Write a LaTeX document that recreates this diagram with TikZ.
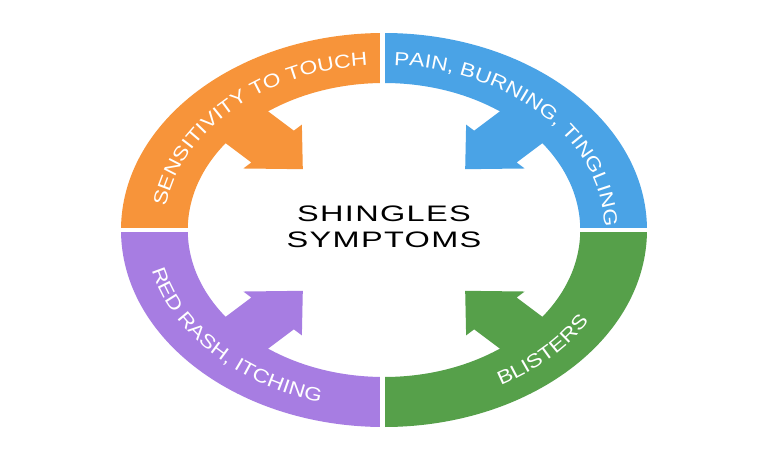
\documentclass[tikz,border=0pt]{standalone}
\usepackage{fontspec}
\setmainfont{Liberation Sans}
\newfontfamily\ringfont[FakeStretch=1.2]{Liberation Sans}
\newfontfamily\centerfont[FakeStretch=1.45,LetterSpace=6]{Liberation Sans}
\usetikzlibrary{decorations.text}
\definecolor{cOrange}{HTML}{F7943A}
\definecolor{cBlue}{HTML}{4AA3E6}
\definecolor{cGreen}{HTML}{56A04A}
\definecolor{cPurple}{HTML}{A77DE2}
\tikzset{
  ringtext/.style={decorate, decoration={text along path, text align=center,
      text color=white, text={|\ringfont\fontsize{19}{21}\selectfont|#1}}},
  gapline/.style={fill=white},
}
\newcommand\ringsegment[2]{%
  \begin{scope}[xscale=1.335]
    \fill[#1] (#2-45:197) arc[start angle=#2-45, end angle=#2+45, radius=197]
      -- (#2+45:147) arc[start angle=#2+45, end angle=#2-45, radius=147] -- cycle;
    \begin{scope}[rotate=#2]
      \fill[#1] (160,22.5) -- (118,22.5) -- (118,31) -- (86,0) -- (118,-31)
        -- (118,-22.5) -- (160,-22.5) -- cycle;
    \end{scope}
  \end{scope}}
\begin{document}
\begin{tikzpicture}[x=1pt,y=1pt]
  \useasboundingbox (-384,-231) rectangle (384,230);
  \fill[white] (-384,-231) rectangle (384,230);
  \ringsegment{cOrange}{135}
  \ringsegment{cBlue}{45}
  \ringsegment{cGreen}{-45}
  \ringsegment{cPurple}{-135}
  \fill[gapline] (-4,-205) rectangle (1,205);
  \fill[gapline] (-270,-2) rectangle (270,2);
  % curved labels
  \path[ringtext={SENSITIVITY TO TOUCH}] (171:220.3 and 165)
    arc[start angle=171, end angle=95, x radius=220.3, y radius=165];
  \path[ringtext={PAIN, BURNING, TINGLING}] (86:220.3 and 165)
    arc[start angle=86, end angle=3, x radius=220.3, y radius=165];
  \path[ringtext={BLISTERS}] (-63:238.3 and 178.5)
    arc[start angle=-63, end angle=-28, x radius=238.3, y radius=178.5];
  \path[ringtext={RED RASH, ITCHING}] (191:238.3 and 178.5)
    arc[start angle=191, end angle=256, x radius=238.3, y radius=178.5];
  \node[align=center, font=\centerfont\fontsize{22.4}{26.3}\selectfont, inner sep=0pt]
    (title) at (0,3) {SHINGLES\\SYMPTOMS};
\end{tikzpicture}
\end{document}
